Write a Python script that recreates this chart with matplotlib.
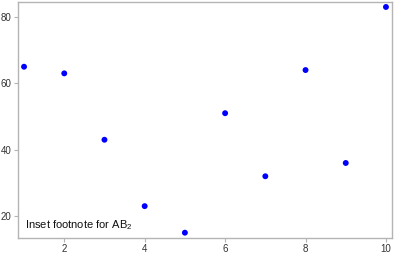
import matplotlib.pyplot as plt
from matplotlib import font_manager as fm

# pin the regular Liberation Sans file (the Narrow cut can win the name match)
regular = [f for f in fm.findSystemFonts() if f.endswith("LiberationSans-Regular.ttf")]
if regular:
    fm.fontManager.addfont(regular[0])
    fam = fm.FontProperties(fname=regular[0]).get_name()
else:
    fam = "DejaVu Sans"
plt.rcParams["font.family"] = [fam, "DejaVu Sans"]
plt.rcParams["mathtext.fontset"] = "custom"
plt.rcParams["mathtext.rm"] = fam

x_vals = [1, 2, 3, 4, 5, 6, 7, 8, 9, 10]
y_vals = [65, 63, 43, 23, 15, 51, 32, 64, 36, 83]
x_ticks = [2, 4, 6, 8, 10]
y_ticks = [20, 40, 60, 80]

FRAME = "#b4b4b4"
INK = "#333333"

fig = plt.figure(figsize=(3.99, 2.57), dpi=100)
ax = fig.add_axes([18 / 399, 1 - 238 / 257, (392 - 18) / 399, (238 - 2) / 257])

ax.scatter(x_vals, y_vals, s=18, color="#0000ff", edgecolors="none", zorder=3)

ax.set_xlim(0.85, 10.15)
ax.set_ylim(13.4, 84.5)
ax.set_xticks(x_ticks)
ax.set_yticks(y_ticks)
ax.tick_params(labelsize=7, colors=INK, length=3, width=0.8, pad=1.5)
ax.tick_params(axis="both", color=FRAME)
for s in ax.spines.values():
    s.set_color(FRAME)
    s.set_linewidth(1.0)

ax.text(0.02, 0.025, "Inset footnote for AB$\\mathrm{_2}$", transform=ax.transAxes,
        fontsize=8, color="#111111", ha="left", va="bottom")

fig.savefig("out.png", dpi=100)
